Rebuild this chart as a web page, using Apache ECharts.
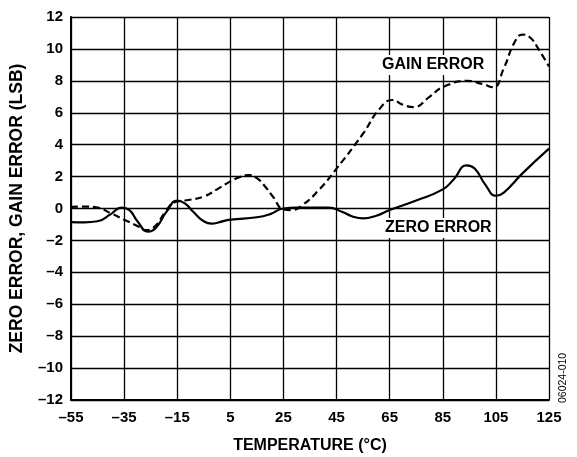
<!DOCTYPE html>
<html>
<head>
<meta charset="utf-8">
<script src="https://cdn.jsdelivr.net/npm/echarts@6/dist/echarts.min.js"></script>
<style>html,body{margin:0;padding:0;background:#fff;}#c{width:577px;height:457px;}</style>
</head>
<body>
<div id="c"></div>
<script>
var xTicks = [-55, -35, -15, 5, 25, 45, 65, 85, 105, 125];
var yTicks = [-12, -10, -8, -6, -4, -2, 0, 2, 4, 6, 8, 10, 12];

var zeroErrorT = [-55,-50,-45,-40,-36,-33,-30,-26,-23,-19,-15,-12,-9,-5,-2,1,5,15,20,25,30,35,42,47,51,55,60,65,75,85,89,94,97,101,105,108,115,125];
var zeroErrorV = [-0.85,-0.87,-0.8,-0.35,0.05,-0.1,-0.8,-1.45,-1.2,-0.2,0.5,0.3,-0.2,-0.8,-0.95,-0.85,-0.7,-0.55,-0.35,0,0.05,0.05,0.05,-0.2,-0.5,-0.62,-0.45,-0.1,0.5,1.2,1.8,2.7,2.5,1.5,0.8,1.0,2.2,3.75];

var gainErrorT = [-55,-50,-45,-40,-35,-30,-27,-24,-19,-16,-12,-5,0,5,9,12,15,18,21,25,28,32,38,45,55,61,66,70,74,80,85,94,100,104,108,112,115,118,121,125];
var gainErrorV = [0.1,0.12,0.05,-0.3,-0.7,-1.1,-1.35,-1.2,-0.1,0.4,0.5,0.75,1.2,1.7,2.0,2.1,1.9,1.4,0.75,-0.05,-0.1,0.2,1.1,2.5,4.7,6.2,6.8,6.5,6.35,7.0,7.6,8.0,7.8,7.6,8.8,10.4,10.9,10.7,10.0,8.9];

function pairs(t, v) { return t.map(function (x, i) { return [x, v[i]]; }); }
function dash(v) { return String(v).replace('-', '\u2013'); }

var FONT = 'Liberation Sans, Arial, sans-serif';
var chart = echarts.init(document.getElementById('c'), null, {renderer: 'canvas'});
chart.setOption({
  animation: false,
  backgroundColor: '#fff',
  grid: {left: 71, right: 28, top: 17, bottom: 57, containLabel: false, outerBoundsMode: 'none'},
  xAxis: {
    type: 'value', min: -55, max: 125, interval: 20,
    axisLine: {show: true, onZero: false, lineStyle: {color: '#000', width: 2}},
    axisTick: {show: false},
    splitLine: {show: true, lineStyle: {color: '#000', width: 1.3}},
    axisLabel: {color: '#000', fontFamily: FONT, fontWeight: 'bold', fontSize: 15, margin: 10, formatter: dash},
    name: 'TEMPERATURE (\u00b0C)', nameLocation: 'middle', nameGap: 38,
    nameTextStyle: {color: '#000', fontFamily: FONT, fontWeight: 'bold', fontSize: 16}
  },
  yAxis: {
    type: 'value', min: -12, max: 12, interval: 2,
    axisLine: {show: true, onZero: false, lineStyle: {color: '#000', width: 2}},
    axisTick: {show: false},
    splitLine: {show: true, lineStyle: {color: '#000', width: 1.3}},
    axisLabel: {color: '#000', fontFamily: FONT, fontWeight: 'bold', fontSize: 15, margin: 8, formatter: dash},
    name: 'ZERO ERROR, GAIN ERROR (LSB)', nameLocation: 'middle', nameGap: 45,
    nameTextStyle: {color: '#000', fontFamily: FONT, fontWeight: 'bold', fontSize: 17.5}
  },
  series: [
    {
      type: 'line', name: 'ZERO ERROR', data: pairs(zeroErrorT, zeroErrorV), smooth: 0.5,
      showSymbol: false, lineStyle: {color: '#000', width: 2.2}, z: 3
    },
    {
      type: 'line', name: 'GAIN ERROR', data: pairs(gainErrorT, gainErrorV), smooth: 0.5,
      showSymbol: false, lineStyle: {color: '#000', width: 2.2, type: [7, 4]}, z: 3
    }
  ],
  graphic: [
    {type: 'text', left: 379, top: 55, z: 10,
      style: {text: 'GAIN ERROR', fill: '#000', font: 'bold 16px ' + FONT, backgroundColor: '#fff', padding: [2, 3]}},
    {type: 'text', left: 382, top: 218, z: 10,
      style: {text: 'ZERO ERROR', fill: '#000', font: 'bold 16px ' + FONT, backgroundColor: '#fff', padding: [2, 3]}},
    {type: 'text', x: 558, y: 403, rotation: Math.PI / 2, z: 10,
      style: {text: '06024-010', fill: '#000', font: '10.5px ' + FONT, align: 'left', verticalAlign: 'top'}}
  ]
});
</script>
</body>
</html>
